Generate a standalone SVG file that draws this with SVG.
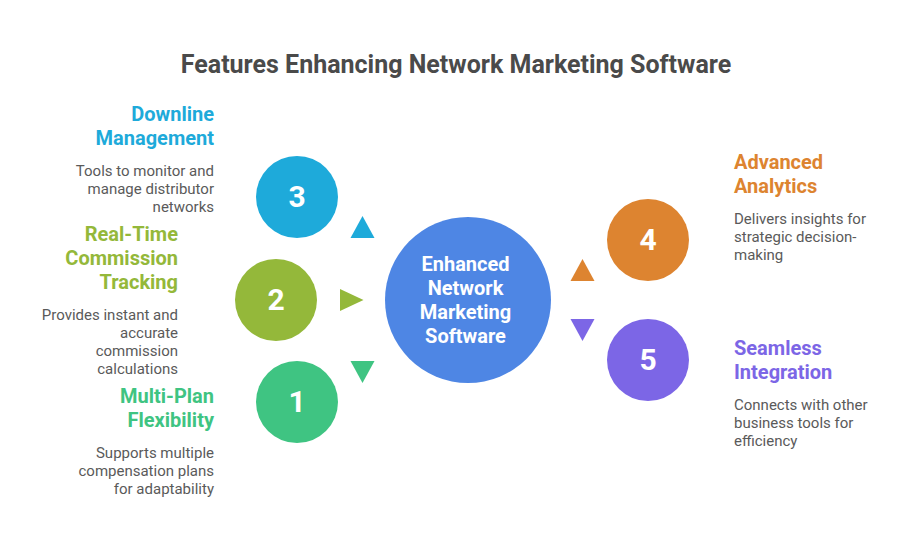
<svg xmlns="http://www.w3.org/2000/svg" width="912" height="546" viewBox="0 0 912 546">
<style>
text{font-family:Roboto,"Liberation Sans",sans-serif}
.t{font-size:25px;font-weight:700;fill:#4a4a4a}
.h{font-size:20px;font-weight:700}
.b{font-size:15px;fill:#5a5a5a}
.n{font-size:30px;font-weight:700;fill:#fff;text-anchor:middle}
.c{font-size:20px;font-weight:700;fill:#fff;text-anchor:middle}
.e{text-anchor:end}
</style>
<rect width="912" height="546" fill="#fff"/>
<text class="t" x="456" y="72.5" text-anchor="middle">Features Enhancing Network Marketing Software</text>
<g id="connectors">
<polygon points="362.5,216 350.5,238 374.5,238" fill="#1eaada"/>
<polygon points="340,289 340,311 363.5,300" fill="#94b83a"/>
<polygon points="350.5,361 374.5,361 362.5,383" fill="#3fc482"/>
<polygon points="582.5,259 570.5,281 594.5,281" fill="#dd8430"/>
<polygon points="570.5,319 594.5,319 582.5,341" fill="#7c66e6"/>
</g>
<g id="center"><circle cx="468" cy="300" r="83" fill="#4e86e4"/>
<text class="c" x="465.500" y="271">Enhanced</text><text class="c" x="465.500" y="295">Network</text><text class="c" x="465.500" y="319">Marketing</text><text class="c" x="465.500" y="343">Software</text></g>
<g id="node3"><circle cx="297" cy="197" r="41" fill="#1eaada"/><text class="n" x="297" y="207">3</text>
<text class="h e" x="214" y="121" fill="#1eaada">Downline</text><text class="h e" x="214" y="145" fill="#1eaada">Management</text>
<text class="b e" x="214" y="176">Tools to monitor and</text><text class="b e" x="214" y="194">manage distributor</text><text class="b e" x="214" y="212">networks</text></g>
<g id="node2"><circle cx="276" cy="300" r="41" fill="#94b83a"/><text class="n" x="276" y="310">2</text>
<text class="h e" x="178" y="241" fill="#94b83a">Real-Time</text><text class="h e" x="178" y="265" fill="#94b83a">Commission</text><text class="h e" x="178" y="289" fill="#94b83a">Tracking</text>
<text class="b e" x="178" y="320">Provides instant and</text><text class="b e" x="178" y="338">accurate</text><text class="b e" x="178" y="356">commission</text><text class="b e" x="178" y="374">calculations</text></g>
<g id="node1"><circle cx="297" cy="402" r="41" fill="#3fc482"/><text class="n" x="297" y="412">1</text>
<text class="h e" x="214" y="403" fill="#3fc482">Multi-Plan</text><text class="h e" x="214" y="427" fill="#3fc482">Flexibility</text>
<text class="b e" x="214" y="458">Supports multiple</text><text class="b e" x="214" y="476">compensation plans</text><text class="b e" x="214" y="494">for adaptability</text></g>
<g id="node4"><circle cx="648" cy="240" r="41" fill="#dd8430"/><text class="n" x="648" y="250">4</text>
<text class="h" x="734" y="169" fill="#dd8430">Advanced</text><text class="h" x="734" y="193" fill="#dd8430">Analytics</text>
<text class="b" x="734" y="224">Delivers insights for</text><text class="b" x="734" y="242">strategic decision-</text><text class="b" x="734" y="260">making</text></g>
<g id="node5"><circle cx="648" cy="360" r="41" fill="#7c66e6"/><text class="n" x="648" y="370">5</text>
<text class="h" x="734" y="355" fill="#7c66e6">Seamless</text><text class="h" x="734" y="379" fill="#7c66e6">Integration</text>
<text class="b" x="734" y="410">Connects with other</text><text class="b" x="734" y="428">business tools for</text><text class="b" x="734" y="446">efficiency</text></g>
</svg>
